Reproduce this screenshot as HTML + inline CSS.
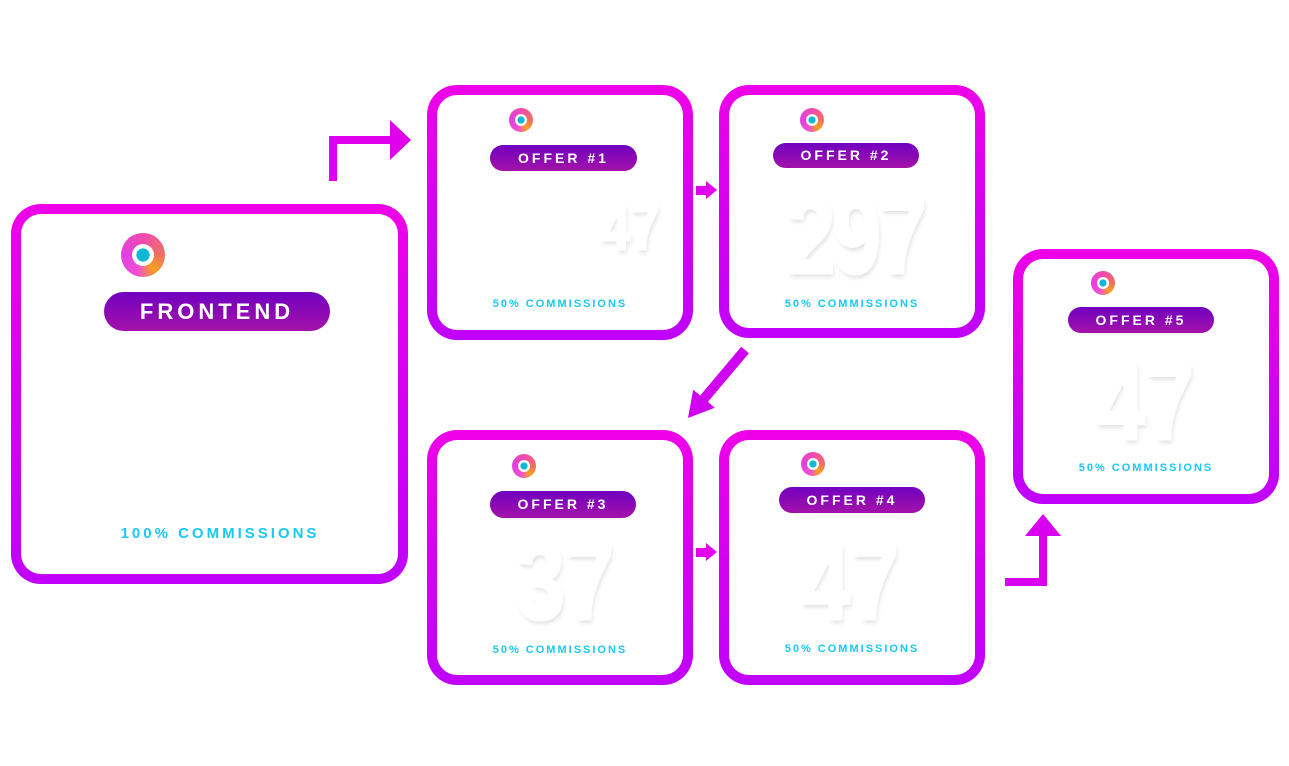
<!DOCTYPE html>
<html><head><meta charset="utf-8"><style>
body{margin:0;width:1289px;height:766px;background:#fff;position:relative;overflow:hidden;font-family:"Liberation Sans",sans-serif}
.box{position:absolute;border-radius:30px;background:linear-gradient(#ee00e8,#bf00fa);}
.box .in{position:absolute;left:10px;top:10px;right:10px;bottom:10px;background:#fff;border-radius:20px}
.pill{position:absolute;border-radius:14px;background:linear-gradient(#7000c0,#a412a8);color:#fff;font-weight:bold;text-align:center;letter-spacing:3px}
.com{position:absolute;color:#1ac8f5;font-weight:bold;text-align:center;letter-spacing:2px;font-size:11px}
.num{position:absolute;color:#fff;font-weight:bold;text-align:center;text-shadow:2px 4px 5px #e2e2e2;font-family:"Liberation Sans Narrow","Liberation Sans",sans-serif;transform:scaleX(0.8);-webkit-text-stroke:3px #fff}
.logo{position:absolute;border-radius:50%;box-sizing:border-box;background:conic-gradient(#f04ab0,#f07060 25%,#f8a020 40%,#f050d0 55%,#e040e0 75%,#f04ab0)}
.logo::after{content:"";position:absolute;left:25%;top:25%;width:50%;height:50%;border-radius:50%;background:radial-gradient(circle,#10b8d8 40%,#fff 45%)}
</style></head><body>
<div class="box" style="left:11px;top:204px;width:397px;height:380px"><div class="in"></div></div>
<div class="box" style="left:427px;top:85px;width:266px;height:255px"><div class="in"></div></div>
<div class="box" style="left:719px;top:85px;width:266px;height:253px"><div class="in"></div></div>
<div class="box" style="left:427px;top:430px;width:266px;height:255px"><div class="in"></div></div>
<div class="box" style="left:719px;top:430px;width:266px;height:255px"><div class="in"></div></div>
<div class="box" style="left:1013px;top:249px;width:266px;height:255px"><div class="in"></div></div>

<div class="logo" style="left:121px;top:233px;width:44px;height:44px"></div>
<div class="logo" style="left:509px;top:108px;width:24px;height:24px"></div>
<div class="logo" style="left:800px;top:108px;width:24px;height:24px"></div>
<div class="logo" style="left:512px;top:454px;width:24px;height:24px"></div>
<div class="logo" style="left:801px;top:452px;width:24px;height:24px"></div>
<div class="logo" style="left:1091px;top:271px;width:24px;height:24px"></div>

<div class="pill" style="left:104px;top:292px;width:226px;height:39px;line-height:39px;font-size:22px;border-radius:20px;letter-spacing:4px">FRONTEND</div>
<div class="pill" style="left:490px;top:145px;width:147px;height:26px;line-height:26px;font-size:14px">OFFER #1</div>
<div class="pill" style="left:773px;top:143px;width:146px;height:25px;line-height:25px;font-size:14px">OFFER #2</div>
<div class="pill" style="left:490px;top:491px;width:146px;height:27px;line-height:27px;font-size:14px">OFFER #3</div>
<div class="pill" style="left:779px;top:487px;width:146px;height:26px;line-height:26px;font-size:14px">OFFER #4</div>
<div class="pill" style="left:1068px;top:307px;width:146px;height:26px;line-height:26px;font-size:14px">OFFER #5</div>

<div class="num" style="left:60px;top:350px;width:300px;font-size:120px;text-shadow:none;transform:scaleX(0.65)">$41.95</div>
<div class="num" style="left:590px;top:188px;width:80px;font-size:66px">47</div>
<div class="num" style="left:755px;top:172px;width:200px;font-size:110px;letter-spacing:-4px">297</div>
<div class="num" style="left:480px;top:518px;width:170px;font-size:110px">37</div>
<div class="num" style="left:770px;top:518px;width:160px;font-size:110px">47</div>
<div class="num" style="left:1065px;top:338px;width:160px;font-size:110px">47</div>

<div class="com" style="left:11px;top:525px;width:418px;font-size:15px;letter-spacing:3px">100% COMMISSIONS</div>
<div class="com" style="left:427px;top:298px;width:266px">50% COMMISSIONS</div>
<div class="com" style="left:719px;top:298px;width:266px">50% COMMISSIONS</div>
<div class="com" style="left:427px;top:644px;width:266px">50% COMMISSIONS</div>
<div class="com" style="left:719px;top:643px;width:266px">50% COMMISSIONS</div>
<div class="com" style="left:1013px;top:462px;width:266px">50% COMMISSIONS</div>

<svg width="1289" height="766" style="position:absolute;left:0;top:0">
<g fill="#e000ec">
<path d="M329 181V136H390V120L411 140L390 160V144H337V181Z"/>
<path d="M696 186H706V181L717 190L706 199V195H696Z"/>
<path d="M696 548H706V543L717 552L706 561V557H696Z"/>
<path d="M748.9 353.2L707.9 401.9L714.8 407.7L688 418L693.2 389.7L700.2 395.5L741.2 346.8Z" fill="#d000f0"/>
<path d="M1005 578H1039V536H1025L1043 514L1061 536H1047V586H1005Z" fill="#d800ee"/>
</g>
</svg>
</body></html>
